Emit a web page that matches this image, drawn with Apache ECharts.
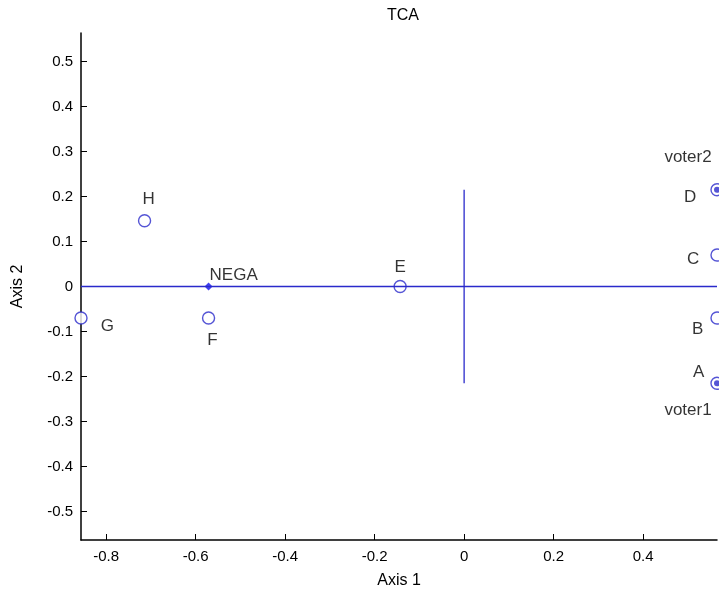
<!DOCTYPE html>
<html>
<head>
<meta charset="utf-8">
<script src="https://cdn.jsdelivr.net/npm/echarts@6/dist/echarts.min.js"></script>
<style>
html,body{margin:0;padding:0;background:#fff;}
#chart{width:719px;height:595px;}
</style>
</head>
<body>
<div id="chart"></div>
<script>
// ---- data ----
const pointNames = ['A', 'B', 'C', 'D', 'E', 'F', 'G', 'H'];
const pointX = [0.565, 0.565, 0.565, 0.565, -0.143, -0.571, -0.856, -0.714];
const pointY = [-0.215, -0.07, 0.07, 0.215, 0, -0.07, -0.07, 0.146];
const voterNames = ['voter1', 'voter2'];
const voterX = [0.565, 0.565];
const voterY = [-0.215, 0.215];
const negaName = ['NEGA'];
const negaX = [-0.571];
const negaY = [0];
const xTicks = [-0.8, -0.6, -0.4, -0.2, 0, 0.2, 0.4];
const yTicks = [-0.5, -0.4, -0.3, -0.2, -0.1, 0, 0.1, 0.2, 0.3, 0.4, 0.5];
const axisXRange = [-0.856, 0.565];
const axisYRange = [-0.563, 0.563];
const crossH = [[-0.856, 0], [0.565, 0]];
const crossV = [[0, -0.215], [0, 0.215]];

// ---- label placement (styles) ----
const labelPos = {
  A: {position: 'left', offset: [-1, -11]},
  B: {position: 'left', offset: [-2, 11]},
  C: {position: 'left', offset: [-6, 4]},
  D: {position: 'left', offset: [-9, 8]},
  E: {position: 'top', offset: [0, 1]},
  F: {position: 'bottom', offset: [4, 2]},
  G: {position: 'right', offset: [8, 8]},
  H: {position: 'top', offset: [4, -1]},
  voter1: {position: 'bottom', offset: [-29, 11]},
  voter2: {position: 'top', offset: [-29, -16]},
  NEGA: {position: 'right', offset: [-8, -11]}
};

const FONT = 'Liberation Sans, Arial, sans-serif';
const BLUE = '#2a2acb';
const tickTxt = {color: '#000', fontFamily: FONT, fontSize: 15};
const ptTxt = {color: '#000', fontFamily: FONT, fontSize: 17};
const nameTxt = {color: '#000', fontFamily: FONT, fontSize: 16};

function items(names, xs, ys) {
  return names.map((n, i) => ({
    name: n,
    value: [xs[i], ys[i]],
    label: Object.assign({show: true, formatter: n}, ptTxt, labelPos[n])
  }));
}

const fmt = v => {
  const r = Math.round(v * 10) / 10;
  return r === 0 ? '0' : String(r);
};

const chart = echarts.init(document.getElementById('chart'), null, {renderer: 'canvas'});
chart.setOption({
  animation: false,
  backgroundColor: '#ffffff',
  title: {
    text: 'TCA', left: 398, top: 3, textAlign: 'center',
    textStyle: {fontFamily: FONT, fontSize: 16, fontWeight: 'normal', color: '#000'}
  },
  grid: {left: 81, right: 2, top: 33, bottom: 55, containLabel: false},
  xAxis: {
    type: 'value', min: axisXRange[0], max: axisXRange[1],
    name: 'Axis 1', nameLocation: 'middle', nameGap: 33,
    nameTextStyle: nameTxt,
    axisLine: {show: true, onZero: false, lineStyle: {color: '#000', width: 1.5}},
    axisTick: {show: true, inside: true, length: 6, customValues: xTicks, lineStyle: {color: '#000'}},
    axisLabel: Object.assign({customValues: xTicks, formatter: fmt, margin: 9}, tickTxt),
    splitLine: {show: false}
  },
  yAxis: {
    type: 'value', min: axisYRange[0], max: axisYRange[1],
    name: 'Axis 2', nameLocation: 'middle', nameGap: 55, nameRotate: 90,
    nameTextStyle: nameTxt,
    axisLine: {show: true, onZero: false, lineStyle: {color: '#000', width: 1.5}},
    axisTick: {show: true, inside: true, length: 6, customValues: yTicks, lineStyle: {color: '#000'}},
    axisLabel: Object.assign({customValues: yTicks, formatter: fmt, margin: 8}, tickTxt),
    splitLine: {show: false}
  },
  series: [
    {
      type: 'line', data: crossH, symbol: 'none', silent: true,
      lineStyle: {color: BLUE, width: 1.3}, clip: false
    },
    {
      type: 'line', data: crossV, symbol: 'none', silent: true,
      lineStyle: {color: BLUE, width: 1.3}, clip: false
    },
    {
      type: 'scatter', data: items(pointNames, pointX, pointY), symbol: 'circle', symbolSize: 12,
      itemStyle: {color: '#fff', borderColor: BLUE, borderWidth: 1.4}, clip: false
    },
    {
      type: 'scatter', data: items(voterNames, voterX, voterY), symbol: 'circle', symbolSize: 6,
      itemStyle: {color: BLUE}, clip: false
    },
    {
      type: 'scatter', data: items(negaName, negaX, negaY), symbol: 'diamond', symbolSize: 8,
      itemStyle: {color: '#1010ee'}, clip: false
    }
  ]
});
</script>
</body>
</html>
